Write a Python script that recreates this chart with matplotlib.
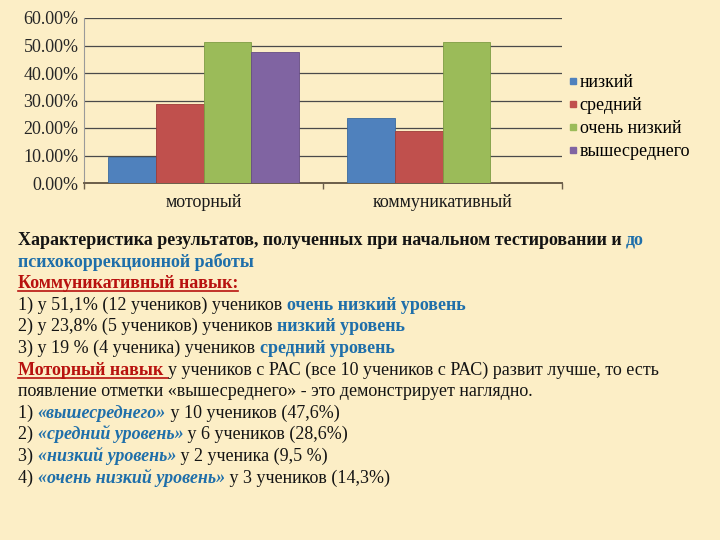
import matplotlib
matplotlib.use("Agg")
import matplotlib.pyplot as plt
import numpy as np
from matplotlib.lines import Line2D
from matplotlib.ticker import FuncFormatter

categories = ['моторный', 'коммуникативный']
series_names = ['низкий', 'средний', 'очень низкий', 'вышесреднего']
low = [0.095, 0.238]
medium = [0.286, 0.19]
very_low = [0.511, 0.511]
above_medium = [0.476, 0.0]
series_values = [low, medium, very_low, above_medium]
yticks = [0.0, 0.1, 0.2, 0.3, 0.4, 0.5, 0.6]

colors = ['#4F81BD', '#C0504D', '#9BBB59', '#8064A2']
edges = ['#3A6A9E', '#9E3B38', '#7E9C43', '#654C85']
BG = '#FCEEC6'
SERIF = 'Liberation Serif'

W, H = 720, 540
fig = plt.figure(figsize=(7.2, 5.4), dpi=100, facecolor=BG)
ax = fig.add_axes([84 / W, 1 - 183 / H, (562 - 84) / W, (183 - 18) / H])
ax.set_facecolor('none')

x = np.arange(len(categories))
bw = 0.2
for i, (name, vals) in enumerate(zip(series_names, series_values)):
    ax.bar(x + (i - 1.5) * bw, vals, bw, color=colors[i], edgecolor=edges[i],
           linewidth=0.6, label=name, zorder=3)

ax.set_xlim(-0.5, 1.5)
ax.set_ylim(0, 0.6)
ax.set_yticks(yticks)
ax.yaxis.set_major_formatter(FuncFormatter(lambda v, p: f"{v*100:.2f}%"))
ax.grid(axis='y', color='#4a4a4a', linewidth=0.9, zorder=0)
ax.set_axisbelow(True)
for s in ['top', 'right']:
    ax.spines[s].set_visible(False)
ax.spines['left'].set_color('#9a9a9a')
ax.spines['left'].set_linewidth(0.8)
ax.spines['bottom'].set_color('#6b5e4a')
ax.spines['bottom'].set_linewidth(1.4)
ax.tick_params(axis='y', length=0, labelsize=13, labelcolor='#262626', pad=4)
for lab in ax.get_yticklabels():
    lab.set_fontfamily(SERIF)
ax.set_xticks(x)
ax.set_xticklabels(categories, fontfamily=SERIF, fontsize=13, color='#1a1a1a')
ax.tick_params(axis='x', length=0, pad=8)
ax.set_xticks([-0.5, 0.5, 1.5], minor=True)
ax.tick_params(axis='x', which='minor', length=4, color='#6b5e4a', width=1)

handles = [Line2D([], [], marker='s', linestyle='none', markersize=5,
                  markerfacecolor=c, markeredgecolor=c) for c in colors]
fig.legend(handles, series_names, loc='upper left',
           bbox_to_anchor=(568 / W, 1 - 74 / H), frameon=False,
           prop={'family': SERIF, 'size': 13}, handlelength=0.5,
           handletextpad=0.15, labelspacing=0.33, borderpad=0, borderaxespad=0)

fig.canvas.draw()
renderer = fig.canvas.get_renderer()

BLACK = '#141414'
BLUE = '#1F6FAA'
RED = '#B8120F'
FS = 13.0


def draw_line(yc, pieces, x0=18):
    xp = x0
    base = yc + 5
    for txt, st in pieces:
        t = fig.text(xp / W, 1 - base / H, txt, fontfamily=SERIF, fontsize=FS,
                     color=st.get('color', BLACK), fontweight=st.get('weight', 'normal'),
                     fontstyle=st.get('style', 'normal'), va='baseline', ha='left')
        bb = t.get_window_extent(renderer)
        if st.get('underline'):
            uy = 1 - (base + 2.5) / H
            fig.add_artist(Line2D([bb.x0 / W, bb.x1 / W], [uy, uy], color=st.get('color', BLACK),
                                  linewidth=1.2, transform=fig.transFigure))
        xp = bb.x1


N = {}
B = {'weight': 'bold'}
BB = {'weight': 'bold', 'color': BLUE}
RU = {'weight': 'bold', 'color': RED, 'underline': True}
BI = {'weight': 'bold', 'color': BLUE, 'style': 'italic'}

lines = [
    (240, [('Характеристика результатов, полученных при начальном тестировании и ', B), ('до', BB)]),
    (262, [('психокоррекционной работы', BB)]),
    (283, [('Коммуникативный навык:', RU)]),
    (305, [('1) у 51,1% (12 учеников) учеников ', N), ('очень низкий уровень', BB)]),
    (326, [('2) у 23,8% (5 учеников) учеников ', N), ('низкий уровень', BB)]),
    (348, [('3) у 19 % (4 ученика) учеников ', N), ('средний уровень', BB)]),
    (370, [('Моторный навык ', RU), ('у учеников с РАС (все 10 учеников с РАС) развит лучше, то есть', N)]),
    (391, [('появление отметки «вышесреднего» - это демонстрирует наглядно.', N)]),
    (413, [('1) ', N), ('«вышесреднего»', BI), (' у 10 учеников (47,6%)', N)]),
    (434, [('2) ', N), ('«средний уровень»', BI), (' у 6 учеников (28,6%)', N)]),
    (456, [('3) ', N), ('«низкий уровень»', BI), (' у 2 ученика (9,5 %)', N)]),
    (478, [('4) ', N), ('«очень низкий уровень»', BI), (' у 3 учеников (14,3%)', N)]),
]
for yc, pieces in lines:
    draw_line(yc, pieces)

fig.savefig('out.png', dpi=100, facecolor=BG)
